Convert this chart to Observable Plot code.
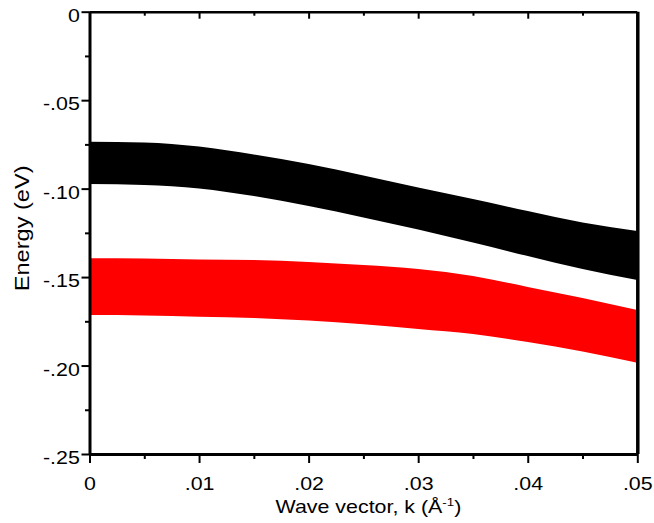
<!DOCTYPE html>
<html>
<head>
<meta charset="utf-8">
<script src="https://cdn.jsdelivr.net/npm/d3@7"></script>
<script src="https://cdn.jsdelivr.net/npm/@observablehq/plot@0.6"></script>
<style>
  html, body { margin: 0; padding: 0; background: #fff; }
  #chart svg { display: block; }
</style>
</head>
<body>
<div id="chart"></div>
<script>
// Wave vector k (Å^-1)
const kValues = [0, 0.005, 0.01, 0.015, 0.02, 0.025, 0.03, 0.035, 0.04, 0.045, 0.05];
// Black band (upper / lower edge), eV
const blackUpper = [-0.0735, -0.0739, -0.0762, -0.0807, -0.0861, -0.0926, -0.0994, -0.1059, -0.1127, -0.1192, -0.1240];
const blackLower = [-0.0974, -0.0980, -0.0999, -0.1042, -0.1098, -0.1163, -0.1231, -0.1305, -0.1381, -0.1455, -0.1517];
// Red band (upper / lower edge), eV
const redUpper = [-0.1394, -0.1395, -0.1400, -0.1404, -0.1415, -0.1432, -0.1454, -0.1494, -0.1556, -0.1618, -0.1686];
const redLower = [-0.1715, -0.1717, -0.1724, -0.1731, -0.1746, -0.1767, -0.1794, -0.1822, -0.1867, -0.1921, -0.1984];

const xMajor = [0, 0.01, 0.02, 0.03, 0.04, 0.05];
const xMinor = [0.005, 0.015, 0.025, 0.035, 0.045];
const xTopMajor = [0.01, 0.02, 0.03, 0.04];
const yMajor = [0, -0.05, -0.10, -0.15, -0.20, -0.25];
const yMinor = [-0.025, -0.075, -0.125, -0.175, -0.225];
const xTitle = "Wave vector, k (Å-1)";
const yTitle = "Energy (eV)";

const blackBand = kValues.map((k, i) => ({k, hi: blackUpper[i], lo: blackLower[i]}));
const redBand = kValues.map((k, i) => ({k, hi: redUpper[i], lo: redLower[i]}));

const fmt = d => d === 0 ? "0" : (d < 0 ? "-" : "") + Math.abs(d).toFixed(2).slice(1);

const W = 654, H = 523;
const mL = 89.5, mR = 16.7, mT = 11.7, mB = 69;
const frameH = H - mT - mB;
const FS = 17.7;

const chart = Plot.plot({
  width: W,
  height: H,
  marginLeft: mL,
  marginRight: mR,
  marginTop: mT,
  marginBottom: mB,
  style: {fontFamily: "'Liberation Sans', Arial, sans-serif", color: "black", background: "white"},
  x: {domain: [0, 0.05]},
  y: {domain: [-0.25, 0]},
  marks: [
    Plot.areaY(blackBand, {x: "k", y1: "lo", y2: "hi", fill: "black", curve: "monotone-x"}),
    Plot.areaY(redBand, {x: "k", y1: "lo", y2: "hi", fill: "#ff0000", curve: "monotone-x"}),
    // left axis ticks
    Plot.axisY({ticks: yMajor, tickSize: 8, strokeWidth: 2, tickFormat: () => "", label: null}),
    Plot.axisY({ticks: yMinor, tickSize: 4.5, strokeWidth: 2, tickFormat: () => "", label: null}),
    Plot.axisY({ticks: yMajor, tickSize: 0, tickPadding: 10.2, tickFormat: fmt, fontSize: FS, dy: 4, label: null}),
    // bottom axis ticks
    Plot.axisX({ticks: xMajor, tickSize: 9, strokeWidth: 2, tickFormat: () => "", label: null}),
    Plot.axisX({ticks: xMinor, tickSize: 5, strokeWidth: 2, tickFormat: () => "", label: null}),
    Plot.axisX({ticks: xMajor, tickSize: 0, tickPadding: 22.5, tickFormat: fmt, fontSize: FS, label: null}),
    // top inward ticks
    Plot.tickX(xTopMajor, {x: d => d, insetBottom: frameH - 7, strokeWidth: 2}),
    Plot.tickX(xMinor, {x: d => d, insetBottom: frameH - 4, strokeWidth: 2}),
    // frame
    Plot.ruleY([0], {strokeWidth: 2.5}),
    Plot.ruleY([-0.25], {strokeWidth: 3}),
    Plot.ruleX([0], {strokeWidth: 3}),
    Plot.ruleX([0.05], {strokeWidth: 3.5}),
    // titles
    Plot.text([yTitle], {frameAnchor: "left", rotate: -90, dx: -67.5, dy: -5, fontSize: 19.5, text: d => d, textAnchor: "middle", lineAnchor: "middle"}),
    Plot.text([xTitle], {frameAnchor: "bottom", dx: 4.5, dy: 52.5, fontSize: FS, text: d => d, textAnchor: "middle", lineAnchor: "middle"})
  ]
});

document.getElementById("chart").appendChild(chart);

const svg = d3.select(chart);
// render the exponent of the x title as a superscript
svg.selectAll("text").each(function() {
  const t = d3.select(this);
  if (t.text() === xTitle) {
    t.text(null);
    t.append("tspan").text("Wave vector, k (Å");
    t.append("tspan").attr("baseline-shift", "super").attr("font-size", 11).text("-1");
    t.append("tspan").text(")");
  }
});
// the reference lettering is horizontally wide: stretch glyphs along the text direction
svg.selectAll("text").filter(function() { return this.textContent !== ""; })
  .attr("transform", function() { return (this.getAttribute("transform") || "") + " scale(1.21,1)"; });
</script>
</body>
</html>
